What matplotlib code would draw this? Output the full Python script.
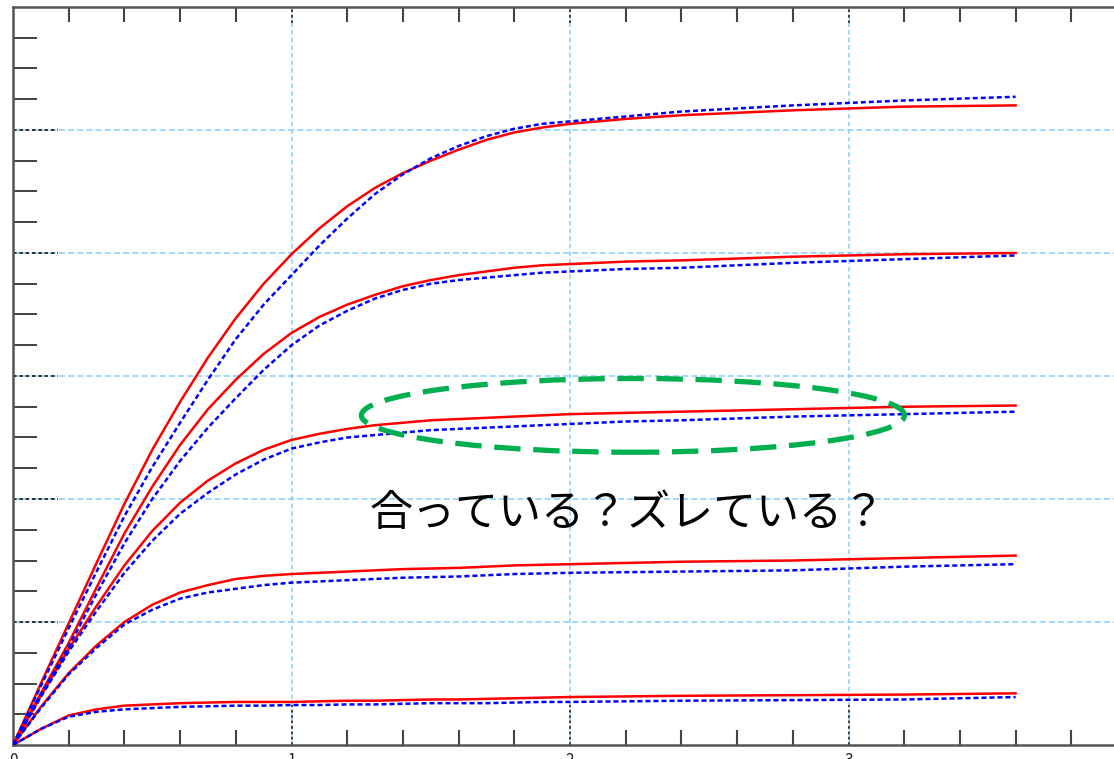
import numpy as np
import matplotlib
matplotlib.use("Agg")
import matplotlib.pyplot as plt
from matplotlib.patches import Ellipse

# time axis shared by all runs
t = [0, 0.1, 0.2, 0.3, 0.4, 0.5, 0.6, 0.7, 0.8, 0.9, 1.0,
     1.1, 1.2, 1.3, 1.4, 1.5, 1.6, 1.7, 1.8, 1.9, 2.0,
     2.2, 2.4, 2.8, 3.2, 3.6]

# measured response (red) for each of the five inputs
meas_1 = [0, 0.50, 0.99, 1.48, 1.96, 2.40, 2.79, 3.15, 3.47, 3.75, 3.99,
          4.20, 4.38, 4.53, 4.65, 4.75, 4.84, 4.92, 4.98, 5.02, 5.05,
          5.09, 5.12, 5.16, 5.19, 5.20]
meas_2 = [0, 0.42, 0.83, 1.28, 1.72, 2.10, 2.44, 2.73, 2.97, 3.18, 3.35,
          3.48, 3.58, 3.66, 3.73, 3.78, 3.82, 3.85, 3.88, 3.90, 3.91,
          3.93, 3.94, 3.97, 3.99, 4.00]
meas_3 = [0, 0.40, 0.78, 1.13, 1.46, 1.74, 1.97, 2.15, 2.29, 2.40, 2.48,
          2.53, 2.57, 2.60, 2.62, 2.64, 2.65, 2.66, 2.67, 2.68, 2.69,
          2.70, 2.71, 2.73, 2.75, 2.76]
meas_4 = [0, 0.31, 0.585, 0.81, 1.00, 1.14, 1.24, 1.30, 1.35, 1.375, 1.39,
          1.40, 1.41, 1.42, 1.43, 1.435, 1.44, 1.45, 1.46, 1.465, 1.47,
          1.48, 1.49, 1.50, 1.52, 1.54]
meas_5 = [0, 0.13, 0.24, 0.29, 0.32, 0.33, 0.34, 0.345, 0.35, 0.35, 0.35,
          0.355, 0.36, 0.36, 0.365, 0.37, 0.37, 0.375, 0.38, 0.385, 0.39,
          0.395, 0.40, 0.405, 0.41, 0.42]

# simulated response (blue dotted)
sim_1 = [0, 0.48, 0.95, 1.41, 1.86, 2.26, 2.62, 2.97, 3.30, 3.58, 3.82,
         4.06, 4.28, 4.48, 4.64, 4.77, 4.87, 4.95, 5.01, 5.05, 5.07,
         5.11, 5.15, 5.20, 5.24, 5.27]
sim_2 = [0, 0.41, 0.80, 1.23, 1.64, 2.00, 2.31, 2.58, 2.82, 3.05, 3.25,
         3.41, 3.53, 3.63, 3.70, 3.75, 3.78, 3.80, 3.82, 3.84, 3.85,
         3.87, 3.88, 3.92, 3.95, 3.98]
sim_3 = [0, 0.39, 0.76, 1.09, 1.40, 1.66, 1.88, 2.05, 2.20, 2.32, 2.41,
         2.46, 2.50, 2.52, 2.54, 2.56, 2.57, 2.58, 2.59, 2.60, 2.61,
         2.63, 2.64, 2.67, 2.69, 2.71]
sim_4 = [0, 0.30, 0.575, 0.79, 0.98, 1.10, 1.19, 1.24, 1.27, 1.30, 1.32,
         1.33, 1.34, 1.35, 1.36, 1.365, 1.37, 1.38, 1.39, 1.395, 1.40,
         1.405, 1.41, 1.42, 1.45, 1.47]
sim_5 = [0, 0.13, 0.23, 0.27, 0.29, 0.30, 0.31, 0.315, 0.32, 0.32, 0.325,
         0.325, 0.33, 0.33, 0.335, 0.34, 0.34, 0.34, 0.345, 0.35, 0.35,
         0.355, 0.36, 0.365, 0.37, 0.39]

x_major = [1, 2, 3]
x_labels = ["0", "1", "2", "3"]
y_major = [1, 2, 3, 4, 5]

# highlighted region: centre, width, height in data units
mark_xy = (2.226, 2.68)
mark_w, mark_h = 1.95, 0.60
note = "合っている？ズレている？"

plt.rcParams['font.family'] = ['Noto Sans CJK JP', 'DejaVu Sans']

fig = plt.figure(figsize=(11.14, 7.59), dpi=100)
# frame runs past the right edge of the image
ax = fig.add_axes([13 / 1114, 14 / 759, 1114 / 1114, 738 / 759])
ax.set_xlim(0, 4)
ax.set_ylim(0, 6)

grid_c = '#87cefa'
for gx in x_major:
    ax.axvline(gx, color=grid_c, lw=1.1, dashes=(3, 2), zorder=1)
    ax.axvline(gx, ymin=0, ymax=40 / 738, color='#333333', lw=1.3, dashes=(1.5, 1.5), zorder=1.5)
    ax.axvline(gx, ymin=1 - 16 / 738, ymax=1, color='#333333', lw=1.3, dashes=(1.5, 1.5), zorder=1.5)
for gy in y_major:
    ax.axhline(gy, color=grid_c, lw=1.1, dashes=(4, 2), zorder=1)
    ax.axhline(gy, xmin=0, xmax=45 / 1114, color='#222222', lw=1.3, dashes=(2, 1.5), zorder=1.5)

meas = [meas_1, meas_2, meas_3, meas_4, meas_5]
sim = [sim_1, sim_2, sim_3, sim_4, sim_5]
for m, s in zip(meas, sim):
    ax.plot(t, m, color='#ff0000', lw=1.8, zorder=3)
    ax.plot(t, s, color='#0000ff', lw=1.8, dashes=(2, 1.2), zorder=4)

ax.add_patch(Ellipse(mark_xy, mark_w, mark_h, fill=False, edgecolor='#00b050',
                     lw=3.8, linestyle=(0, (5, 2.4)), zorder=5))
ax.text(2.205, 1.88, note, fontsize=31, ha='center', va='center', color='black',
        family=['Noto Sans CJK JP', 'DejaVu Sans'], zorder=6)

# ticks: majors drawn above as dotted stubs, minors as inward marks
ax.set_xticks([0] + x_major)
ax.set_xticklabels(x_labels)
ax.set_xticks(np.arange(0.2, 4, 0.2), minor=True)
ax.set_yticks(y_major)
ax.set_yticks(np.arange(0.25, 6, 0.25), minor=True)
ax.tick_params(which='major', length=0, labelsize=11, labelcolor='#222222', pad=5)
ax.tick_params(axis='y', which='major', labelleft=False)
ax.tick_params(axis='x', which='minor', direction='in', length=11, width=1.5,
               color='#444444', top=True, bottom=True)
ax.tick_params(axis='y', which='minor', direction='in', length=17, width=1.3,
               color='#333333', left=True, right=False)

for sp in ax.spines.values():
    sp.set_color('#555555')
    sp.set_linewidth(1.8)

fig.savefig('out.png', dpi=100)
